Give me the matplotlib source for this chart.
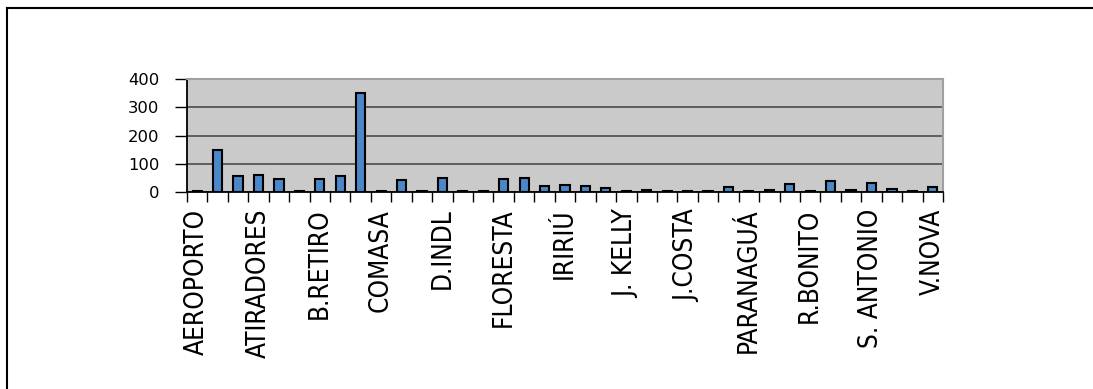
import matplotlib.pyplot as plt
from matplotlib.lines import Line2D
import numpy as np

# quantidade por bairro (37 bairros, só um a cada três tem o nome no eixo)
valores = [3, 150, 57, 61, 46, 2, 46, 56, 352, 2, 42, 5, 51, 2, 5, 46, 50, 21,
           26, 20, 14, 5, 8, 5, 5, 5, 17, 5, 8, 29, 5, 40, 8, 33, 11, 5, 19]
nomes = ['AEROPORTO', 'ATIRADORES', 'B.RETIRO', 'COMASA', 'D.INDL', 'FLORESTA',
         'IRIRIÚ', 'J. KELLY', 'J.COSTA', 'PARANAGUÁ', 'R.BONITO', 'S. ANTONIO',
         'V.NOVA']
yticks = [0, 100, 200, 300, 400]

fig = plt.figure(figsize=(10.93, 3.89), dpi=100)
ax = fig.add_axes([187 / 1093, 1 - 192 / 389, 756 / 1093, 113 / 389])

x = np.arange(len(valores))
ax.bar(x, valores, width=0.45, color='#4a88c9', edgecolor='black',
       linewidth=1.5, zorder=3)

ax.set_facecolor('#cacaca')
ax.set_xlim(-0.5, len(valores) - 0.5)
ax.set_ylim(0, 400)
ax.set_yticks(yticks)
ax.set_yticklabels([str(v) for v in yticks], fontsize=11.8,
                   family='DejaVu Sans')
ax.yaxis.grid(True, color='#555555', linewidth=1.3, zorder=1)
ax.tick_params(axis='y', length=9, width=1, direction='out', pad=11)

ax.set_xticks(x[::3])
ax.set_xticklabels(nomes, rotation=90, fontsize=18.8, family='DejaVu Sans',
                   fontstretch='condensed')
ax.set_xticks(np.arange(len(valores) + 1) - 0.5, minor=True)
ax.tick_params(axis='x', which='major', length=0, pad=12)
ax.tick_params(axis='x', which='minor', length=7, width=1, direction='out')

for s in ['top', 'right']:
    ax.spines[s].set_color('#a0a0a0')
    ax.spines[s].set_linewidth(1.5)
for s in ['left', 'bottom']:
    ax.spines[s].set_color('black')
    ax.spines[s].set_linewidth(1.3)

# moldura externa (só topo e esquerda aparecem)
fig.add_artist(Line2D([6.5 / 1093, 1], [1 - 7.5 / 389, 1 - 7.5 / 389],
                      transform=fig.transFigure, color='black', linewidth=1.5))
fig.add_artist(Line2D([6.5 / 1093, 6.5 / 1093], [0, 1 - 7.5 / 389],
                      transform=fig.transFigure, color='black', linewidth=1.5))

fig.savefig('out.png', dpi=100)
